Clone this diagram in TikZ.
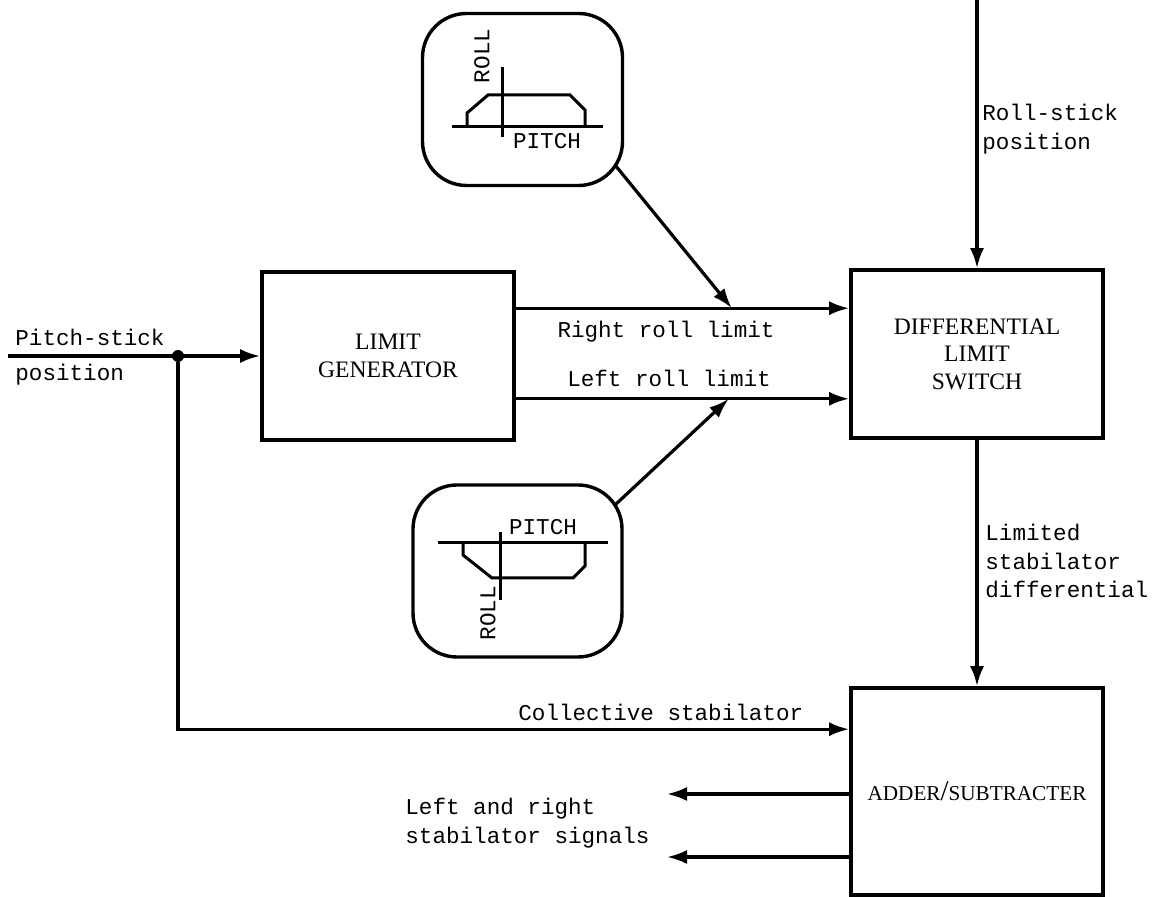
\documentclass[tikz,border=0pt]{standalone}
\usepackage{fontspec}
\setmonofont{Liberation Mono}
\newfontfamily\boxfont{Liberation Serif}
\usetikzlibrary{arrows.meta, positioning}
\tikzstyle{block} = [
    rectangle,
    minimum width=126pt,
    minimum height=84pt,
    align=center,
    line width=1.8pt,
    font=\boxfont\fontsize{11.8}{13.8}\selectfont,
    draw=black
]
\tikzstyle{plotbox} = [
    rectangle,
    rounded corners=22pt,
    minimum width=100pt,
    minimum height=86pt,
    line width=1.7pt,
    draw=black
]
\tikzstyle{tag} = [
    inner sep=0pt,
    align=left,
    font=\ttfamily\fontsize{11.3}{14.2}\selectfont
]
\tikzstyle{curve} = [line width=1.5pt]
\tikzstyle{arrow} = [line width=1.6pt,-{Latex[length=10pt,width=7pt]}]

\begin{document}
\begin{tikzpicture}[x=0.5pt,y=-0.5pt]
\useasboundingbox (0,0) rectangle (1158,897);

\node (limgen) [block] at (388,356) {LIMIT\\GENERATOR};

\node (dls) [block] at (977,354) {DIFFERENTIAL\\LIMIT\\SWITCH};

\node (adder) [block, minimum height=103.5pt,
    font=\boxfont\fontsize{10.6}{13}\selectfont] at (977,791.5)
{ADDER{\Large/}SUBTRACTER};

\node (rollplot) [plotbox] at (522.5,99.5) {};

\node (pitchplot) [plotbox, minimum width=104.5pt] at (517.5,571) {};

% roll limit against pitch, upper chart
\draw [curve] (452,127) -- (603,127);
\draw [curve] (502,67) -- (502,137);
\draw [curve] (467,127) -- (467,113) -- (488,95) -- (570,95) -- (585,110) -- (585,127);
\node (rollup) [tag, rotate=90] at (482,56) {ROLL};
\node (pitchup) [tag] at (547,141) {PITCH};

% lower chart
\draw [curve] (438,543) -- (608,543);
\draw [curve] (500,532) -- (500,600);
\draw [curve] (463,543) -- (463,555) -- (492,578) -- (573,578) -- (585,566) -- (585,543);
\node (pitchlow) [tag] at (543,527) {PITCH};
\node (rolllow) [tag, rotate=90] at (488,613) {ROLL};

% inputs and taps
\coordinate (pitchin) at (8,356);
\coordinate (rollin) at (977,0);
\node (junc) [circle, fill, inner sep=0pt, minimum size=6pt] at (178,356) {};
\coordinate (rrl) at ([yshift=-19pt]limgen.north east);
\coordinate (lrl) at ([yshift=21.5pt]limgen.south east);
\coordinate (rtap) at ([xshift=108pt]rrl);
\coordinate (ltap) at ([xshift=106.5pt]lrl);
\coordinate (collin) at ([yshift=-21.5pt]adder.north west);
\coordinate (outa) at (667,794);
\coordinate (outb) at (667,857);

\draw [arrow] (pitchin) -- (limgen);
\draw [arrow] (junc) |- (collin);
\draw [arrow] (rrl) -- (rrl -| dls.west);
\draw [arrow] (lrl) -- (lrl -| dls.west);
\draw [arrow] ([xshift=-4.5pt,yshift=11pt]rollplot.south east) -- (rtap);
\draw [arrow] ([xshift=-4.5pt,yshift=-11pt]pitchplot.north east) -- (ltap);
\draw [arrow] (rollin) -- (dls);
\draw [arrow] (dls) -- (adder);
\draw [arrow] (outa -| adder.west) -- (outa);
\draw [arrow] (outb -| adder.west) -- (outb);

\node (pitchtxt) [tag, anchor=west] at (15,337) {Pitch-stick};
\node (postxt) [tag, anchor=west] at (15,375) {position};
\node (rrtxt) [tag] at (666,332) {Right roll limit};
\node (lrtxt) [tag] at (669,378) {Left roll limit};
\node (rolltxt) [tag, anchor=west] at (982,129) {Roll-stick\\position};
\node (limtxt) [tag, anchor=west] at (985,561) {Limited\\stabilator\\differential};
\node (colltxt) [tag, anchor=west] at (518,712) {Collective stabilator};
\node (outtxt) [tag, anchor=west] at (405,823) {Left and right\\stabilator signals};

\end{tikzpicture}
\end{document}
